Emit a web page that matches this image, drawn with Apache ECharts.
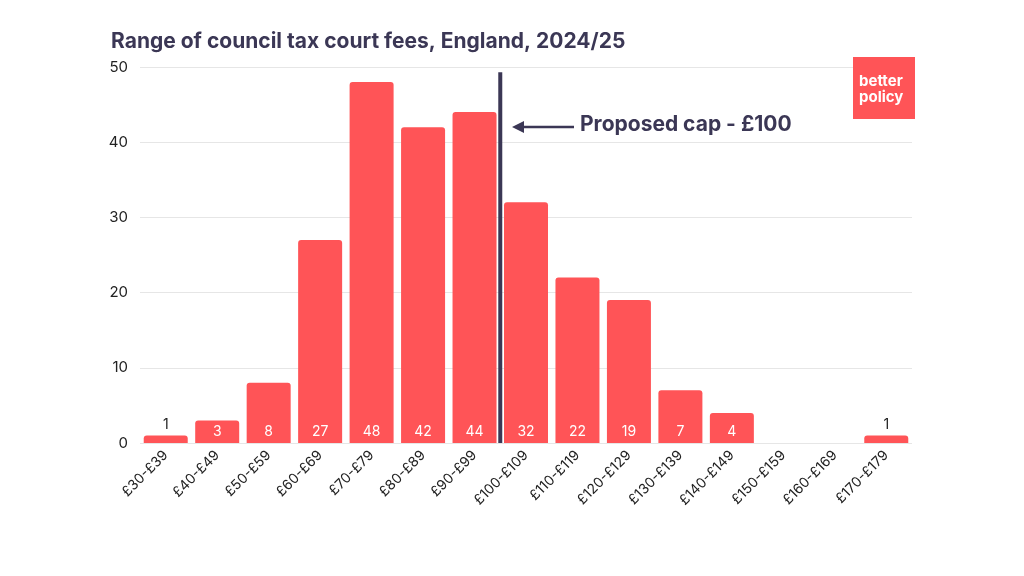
<!DOCTYPE html>
<html><head><meta charset="utf-8">
<script src="https://cdn.jsdelivr.net/npm/echarts@6/dist/echarts.min.js"></script>
<style>html,body{margin:0;background:#fff}#c{width:1024px;height:576px}</style>
</head><body><div id="c"></div>
<script>
var categories = ['£30-£39','£40-£49','£50-£59','£60-£69','£70-£79','£80-£89','£90-£99','£100-£109','£110-£119','£120-£129','£130-£139','£140-£149','£150-£159','£160-£169','£170-£179'];
var counts = [1, 3, 8, 27, 48, 42, 44, 32, 22, 19, 7, 4, 0, 0, 1];
var capLine = [[7, 0], [7, 49.3]];
var ink = '#3b3755';
var font = 'Inter, "Open Sans", sans-serif';

var chart = echarts.init(document.getElementById('c'));
chart.setOption({
  animation: false,
  textStyle: {fontFamily: font},
  title: {text: 'Range of council tax court fees, England, 2024/25', left: 106, top: 26,
    textStyle: {fontSize: 21, fontWeight: 'bold', color: ink, fontFamily: font}},
  grid: {left: 140, right: 112, top: 67, bottom: 133},
  xAxis: [{
    type: 'category', data: categories,
    axisLine: {show: false}, axisTick: {show: false},
    axisLabel: {rotate: 45, color: '#222', fontSize: 14, interval: 0, margin: 10}
  }, {
    type: 'value', min: 0, max: 15, show: false
  }],
  yAxis: {
    type: 'value', min: 0, max: 50, interval: 10,
    axisLine: {show: false}, axisTick: {show: false},
    axisLabel: {color: '#222', fontSize: 15, margin: 12},
    splitLine: {lineStyle: {color: '#e6e6e6'}}
  },
  series: [{
    type: 'bar', data: counts.map(function (v) {
      return v > 2 ? {value: v, label: {position: 'insideBottom', color: '#fff'}}
                   : {value: v, label: {show: v > 0, position: 'top', color: '#222'}};
    }),
    barWidth: 44, itemStyle: {color: '#ff5457', borderRadius: [3, 3, 0, 0]},
    label: {show: true, fontSize: 14, distance: 4}
  }, {
    type: 'line', xAxisIndex: 1, data: capLine, symbol: 'none',
    lineStyle: {color: ink, width: 4}
  }],
  graphic: [
    {type: 'line', shape: {x1: 574, y1: 127, x2: 516, y2: 127}, style: {stroke: ink, lineWidth: 2.5}},
    {type: 'polygon', shape: {points: [[512, 127], [524, 121], [524, 133]]}, style: {fill: ink}},
    {type: 'text', left: 580, top: 114, style: {text: 'Proposed cap - £100', fill: ink, font: 'bold 21px ' + font}},
    {type: 'rect', z: 10, shape: {x: 853, y: 57, width: 62, height: 62}, style: {fill: '#ff5457'}},
    {type: 'text', z: 11, left: 859, top: 73, style: {text: 'better\npolicy', fill: '#fff', font: 'bold 15px ' + font, lineHeight: 16}}
  ]
});
</script></body></html>
